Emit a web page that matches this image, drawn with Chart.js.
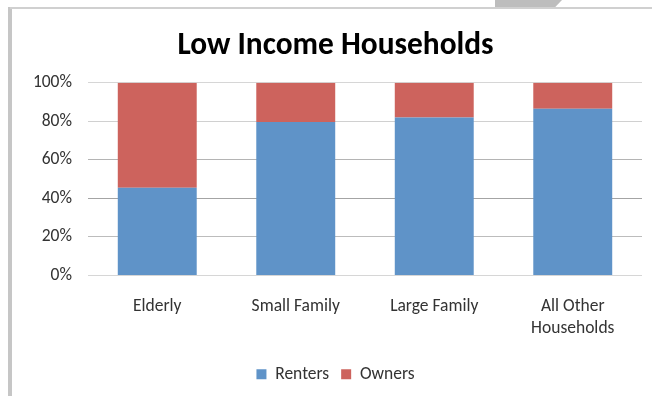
<!DOCTYPE html>
<html>
<head>
<meta charset="utf-8">
<script src="https://cdn.jsdelivr.net/npm/chart.js@4/dist/chart.umd.min.js"></script>
<style>
  html, body { margin: 0; padding: 0; background: #fff; }
  #wrap { position: relative; width: 652px; height: 396px; overflow: hidden; }
  #frame-left { position: absolute; left: 8px; top: 7px; width: 4px; height: 400px; background: #c6c6c6; }
  #frame-top { position: absolute; left: 10px; top: 7px; width: 650px; height: 2px; background: #d0d0d0; }
  #tab { position: absolute; left: 495px; top: 0; width: 67px; height: 7px; background: #bdbdbd;
         clip-path: polygon(0 0, 100% 0, 90% 100%, 0 100%); }
  canvas { position: absolute; left: 0; top: 0; }
</style>
</head>
<body>
<div id="wrap">
  <canvas id="c" width="652" height="396"></canvas>
  <div id="frame-left"></div>
  <div id="frame-top"></div>
  <div id="tab"></div>
</div>
<script>
// Share of low income households by tenure (percent)
const categories = ['Elderly', 'Small Family', 'Large Family', ['All Other', 'Households']];
const renters = [45.5, 79.6, 81.9, 86.5];
const owners = [54.5, 20.4, 18.1, 13.5];
const yTicks = [0, 20, 40, 60, 80, 100];

const FONT = "Carlito, Calibri, 'Open Sans', sans-serif";
const gridColors = ['#d6d6d6', '#bcbcbc', '#a4a4a4', '#b4b4b4', '#d0d0d0', '#d6d6d6'];

new Chart(document.getElementById('c'), {
  type: 'bar',
  data: {
    labels: categories,
    datasets: [
      { label: 'Renters', data: renters, backgroundColor: '#5f93c8' },
      { label: 'Owners', data: owners, backgroundColor: '#cd635d' }
    ]
  },
  options: {
    responsive: false,
    animation: false,
    layout: { padding: { left: 29, right: 10, top: 0, bottom: 3 } },
    datasets: { bar: { barPercentage: 0.57, categoryPercentage: 1 } },
    plugins: {
      title: {
        display: true,
        text: 'Low Income Households',
        color: '#000',
        font: { family: FONT, size: 31.4, weight: 'bold', lineHeight: 1.2 },
        padding: { top: 27, bottom: 18 }
      },
      legend: {
        position: 'bottom',
        labels: {
          color: '#333',
          font: { family: FONT, size: 17.5, lineHeight: 1.2 },
          boxWidth: 10,
          boxHeight: 10,
          padding: 12
        }
      },
      tooltip: { enabled: false }
    },
    scales: {
      x: {
        stacked: true,
        afterFit: (s) => { s.height = 78; },
        grid: { display: false },
        border: { display: false },
        ticks: {
          color: '#333',
          font: { family: FONT, size: 17.5, lineHeight: 1.25 },
          padding: 12,
          maxRotation: 0
        }
      },
      y: {
        stacked: true,
        min: 0,
        max: 100,
        afterFit: (s) => { s.width = 59; },
        afterBuildTicks: (s) => { s.ticks = yTicks.map(v => ({ value: v })); },
        grid: {
          drawTicks: false,
          color: (ctx) => gridColors[ctx.index] || '#d6d6d6',
          lineWidth: 1
        },
        border: { display: false },
        ticks: {
          color: '#333',
          font: { family: FONT, size: 17.5 },
          padding: 16,
          callback: (v) => v + '%'
        }
      }
    }
  }
});
</script>
</body>
</html>
